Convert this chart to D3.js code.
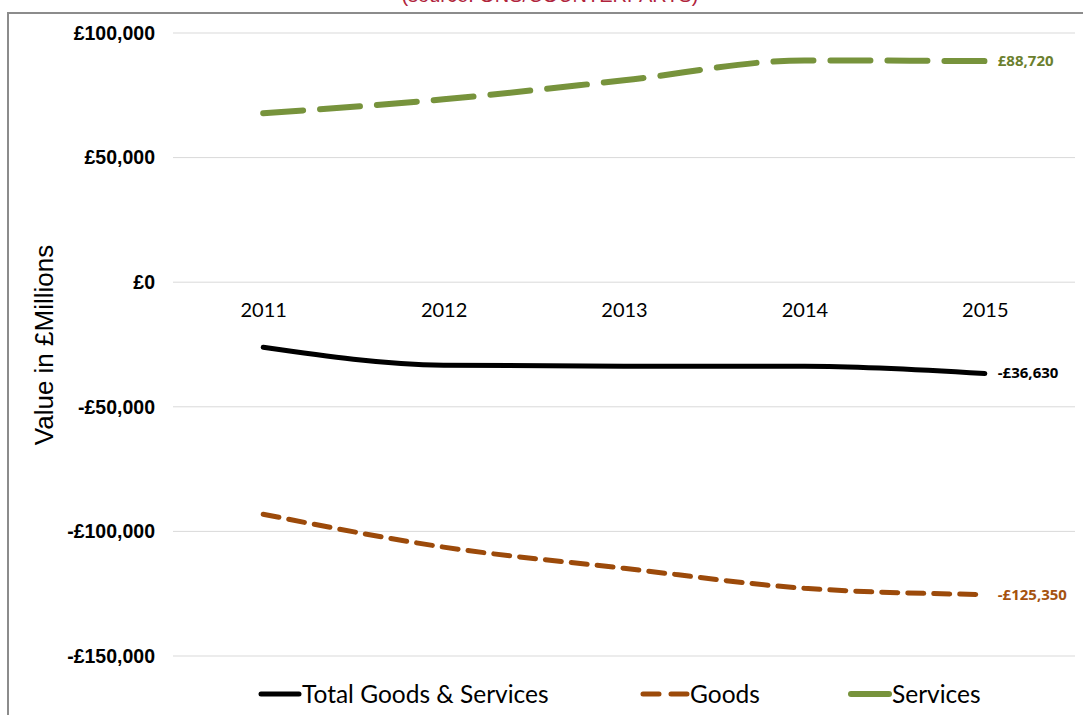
<!DOCTYPE html>
<html>
<head>
<meta charset="utf-8">
<script src="https://cdn.jsdelivr.net/npm/d3@7"></script>
<style>
  html, body { margin: 0; padding: 0; background: #fff; }
  svg { display: block; }
</style>
</head>
<body>
<svg id="chart" width="1083" height="715"></svg>
<script>
// Trade balance by year, £ millions
const years = ["2011", "2012", "2013", "2014", "2015"];
const totalValues = [-26100, -33300, -33700, -33700, -36630];
const goodsValues = [-93100, -106300, -114800, -122800, -125350];
const servicesValues = [67800, 73400, 81000, 89000, 88720];
const yTicks = [100000, 50000, 0, -50000, -100000, -150000];
const seriesNames = ["Total Goods & Services", "Goods", "Services"];

const svg = d3.select("#chart");

const margin = { left: 173, right: 1075, top: 33, bottom: 656 };

const x = d3.scalePoint().domain(years).range([margin.left, margin.right]).padding(0.5);
const y = d3.scaleLinear().domain([-150000, 100000]).range([margin.bottom, margin.top]);

// heading sits above the frame, mostly outside the page
svg.append("text")
  .attr("x", 550).attr("y", 2)
  .attr("text-anchor", "middle")
  .attr("font-family", "Liberation Sans, Arial, sans-serif")
  .attr("font-size", 20)
  .attr("fill", "#B0243C")
  .text("(source: ONS/COUNTERPARTS)");

// chart frame
svg.append("rect")
  .attr("x", 8).attr("y", 13)
  .attr("width", 1200).attr("height", 800)
  .attr("fill", "none")
  .attr("stroke", "#8c8c8c")
  .attr("stroke-width", 2);

// horizontal gridlines
svg.append("g")
  .selectAll("line")
  .data(yTicks)
  .join("line")
  .attr("x1", margin.left).attr("x2", margin.right)
  .attr("y1", d => y(d)).attr("y2", d => y(d))
  .attr("stroke", "#d9d9d9")
  .attr("stroke-width", 1);

// y axis labels
const fmt = d => (d < 0 ? "-" : "") + "£" + d3.format(",")(Math.abs(d));
const yAxis = d3.axisLeft(y).tickValues(yTicks).tickFormat(fmt).tickSize(0).tickPadding(0);
const yG = svg.append("g").attr("transform", "translate(155,0)").call(yAxis);
yG.select(".domain").remove();
yG.selectAll("text")
  .attr("font-family", "Liberation Sans, Arial, sans-serif")
  .attr("font-size", 19.5)
  .attr("font-weight", "bold")
  .attr("fill", "#000");

// category labels sit just below the zero line
const xAxis = d3.axisBottom(x).tickSize(0).tickPadding(0);
const xG = svg.append("g").attr("transform", `translate(0,${y(0) + 21})`).call(xAxis);
xG.select(".domain").remove();
xG.selectAll("text")
  .attr("font-family", "Lato, sans-serif")
  .attr("font-size", 20)
  .attr("fill", "#000");

// y axis title
svg.append("text")
  .attr("transform", `translate(53,345) rotate(-90)`)
  .attr("text-anchor", "middle")
  .attr("font-family", "Liberation Sans, Arial, sans-serif")
  .attr("font-size", 26)
  .attr("fill", "#000")
  .text("Value in £Millions");

const series = [
  { name: seriesNames[0], values: totalValues, color: "#000000", width: 5, dash: null, labelColor: "#000000" },
  { name: seriesNames[1], values: goodsValues, color: "#9C4A0A", width: 5, dash: "16 10", labelColor: "#A5520F" },
  { name: seriesNames[2], values: servicesValues, color: "#77933C", width: 6, dash: "40 17", labelColor: "#6B7F2E" }
];

const line = d3.line()
  .x((d, i) => x(years[i]))
  .y(d => y(d))
  .curve(d3.curveMonotoneX);

svg.append("g")
  .selectAll("path")
  .data(series)
  .join("path")
  .attr("d", s => line(s.values))
  .attr("fill", "none")
  .attr("stroke", s => s.color)
  .attr("stroke-width", s => s.width)
  .attr("stroke-dasharray", s => s.dash)
  .attr("stroke-linecap", "round");

// end-of-line value labels
svg.append("g")
  .selectAll("text")
  .data(series)
  .join("text")
  .attr("x", x(years[years.length - 1]) + 13)
  .attr("y", s => y(s.values[s.values.length - 1]) + 5)
  .attr("font-family", "Open Sans, sans-serif")
  .attr("font-size", 15)
  .attr("font-weight", "bold")
  .attr("fill", s => s.labelColor)
  .text(s => fmt(s.values[s.values.length - 1]));

// legend
const legendX = [258, 640, 848];
const legendY = 694;
const lg = svg.append("g")
  .selectAll("g")
  .data(series)
  .join("g")
  .attr("transform", (s, i) => `translate(${legendX[i]},${legendY})`);
lg.append("line")
  .attr("x1", 3).attr("x2", (s, i) => i === 1 ? 47 : 41)
  .attr("y1", 0).attr("y2", 0)
  .attr("stroke", s => s.color)
  .attr("stroke-width", s => s.width)
  .attr("stroke-dasharray", (s, i) => i === 1 ? "16 12" : null)
  .attr("stroke-linecap", "round");
lg.append("text")
  .attr("x", (s, i) => i === 1 ? 50 : 44)
  .attr("y", 9)
  .attr("font-family", "Lato, sans-serif")
  .attr("font-size", 24.5)
  .attr("fill", "#000")
  .text(s => s.name);
</script>
</body>
</html>
